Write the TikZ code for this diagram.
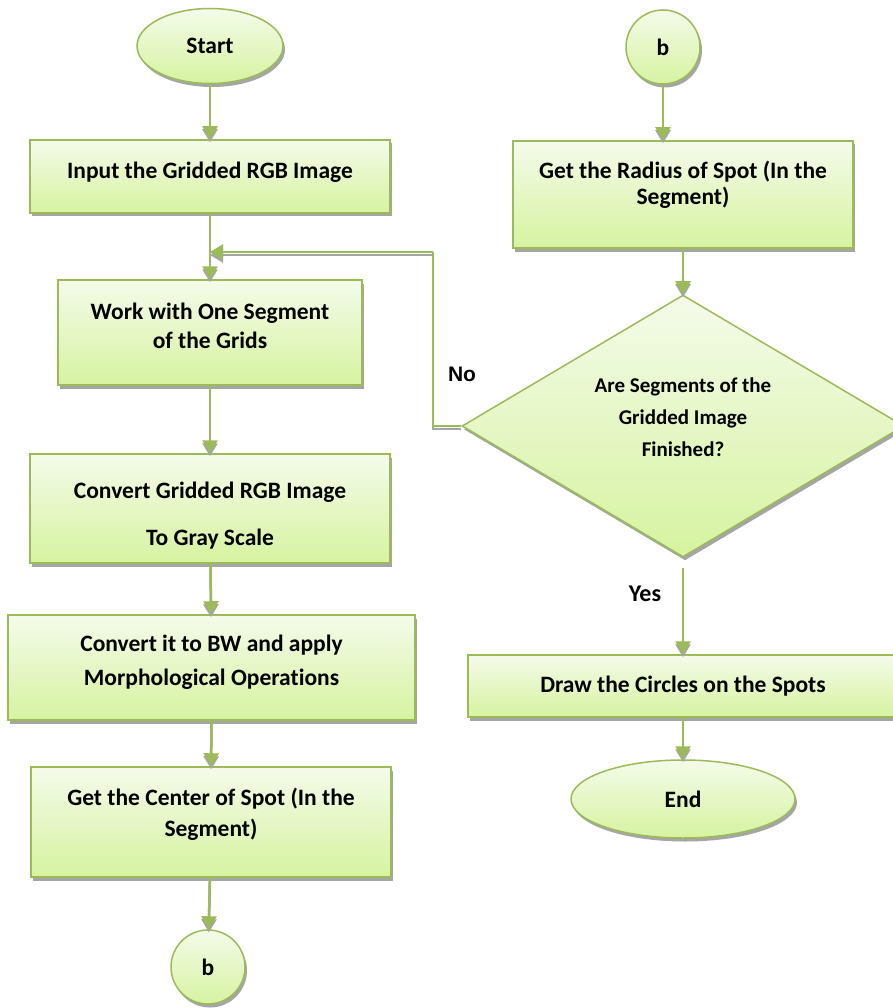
\documentclass[tikz,border=0pt]{standalone}
\usepackage{fontspec}
\setmainfont{Carlito}[Ligatures=NoCommon]
\newfontfamily\arialfont{Liberation Sans}
\usetikzlibrary{shapes.geometric,shadows,arrows.meta}
\definecolor{gborder}{RGB}{155,187,89}
\definecolor{gtop}{RGB}{244,251,234}
\definecolor{gbot}{RGB}{214,243,160}
\definecolor{shad}{RGB}{165,165,165}
\begin{document}
\begin{tikzpicture}[x=1pt,y=-1pt,
  txt/.style={font=\bfseries\fontsize{23.5}{29}\selectfont, align=center, inner sep=0pt},
  dtxt/.style={font=\bfseries\fontsize{21}{32}\selectfont, align=center, inner sep=0pt},
  shape base/.style={draw=gborder, line width=1.5pt, top color=gtop, bottom color=gbot,
    drop shadow={shadow xshift=2pt, shadow yshift=-3.5pt, fill=shad, opacity=1},
    inner sep=0pt, txt},
  procbox/.style={shape base, rectangle},
  term/.style={shape base, ellipse},
  conn/.style={shape base, circle, minimum size=74pt},
  decision/.style={shape base, diamond},
  arr/.style={draw=gborder, line width=2.5pt, -{Triangle[width=15pt,length=13pt]}},
  arrshadow/.style={draw=shad, line width=2.5pt, -{Triangle[width=15pt,length=13pt]},
    transform canvas={yshift=-3pt}},
  lab/.style={font=\bfseries\fontsize{21}{25}\selectfont}
]
\useasboundingbox (0,0) rectangle (893,1008);

% shapes
\node[term, minimum width=146pt, minimum height=75pt] (start) at (210,46) {Start};
\node[procbox, minimum width=360pt, minimum height=73pt] (input) at (210,176.5) {};
\node[procbox, minimum width=304pt, minimum height=105pt] (work) at (210,332.5) {};
\node[procbox, minimum width=360pt, minimum height=109pt] (gray) at (210,508.5) {};
\node[procbox, minimum width=407pt, minimum height=105pt] (bw) at (211.5,667.5) {};
\node[procbox, minimum width=360pt, minimum height=110pt] (center) at (211,822) {};
\node[conn] (bbot) at (208,967) {b};
\node[conn] (btop) at (663,47) {b};
\node[procbox, minimum width=340pt, minimum height=107pt] (radius) at (683,194.5) {};
\node[decision, minimum width=442pt, minimum height=262pt] (dec) at (683,426) {};
\node[procbox, minimum width=430pt, minimum height=62pt] (draw) at (683,686) {Draw the Circles on the Spots};
\node[term, minimum width=224pt, minimum height=78pt] (end) at (683,799) {End};

% texts
\node[txt] (inputtxt) at (210,172) {Input the Gridded RGB Image};
\node[txt] (worktxt) at (210,325.5) {Work with One Segment\\of the Grids};
\node[txt] (graytxt) at (210,515.5) {Convert Gridded RGB Image\\[18pt]To Gray Scale};
\node[txt] (bwtxt) at (211.5,662) {Convert it to BW and apply\\[5pt]Morphological Operations};
\node[txt] (centertxt) at (211,814) {Get the Center of Spot (In the\\[2pt]Segment)};
\node[txt] (radiustxt) at (683,184.5) {Get the Radius of Spot (In the\\[-3pt]Segment)};
\node[dtxt] (dectxt) at (683,417) {Are Segments of the\\Gridded Image\\Finished?};

\node[lab, font=\arialfont\bfseries\fontsize{21}{25}\selectfont] (nolab) at (462,374) {No};
\node[lab, font=\bfseries\fontsize{24}{28}\selectfont] (yeslab) at (645,594) {Yes};

\coordinate (loopturn) at (433,252);
\coordinate (merge) at (210,252);

% shadows of connectors
\draw[arrshadow] (start) -- (input);
\draw[arrshadow] (input) -- (work);
\draw[arrshadow, -] (dec.west) -| (loopturn);
\draw[arrshadow] (loopturn) -- (merge);
\draw[arrshadow] (work) -- (gray);
\draw[arrshadow] (gray) -- (bw);
\draw[arrshadow] (bw) -- (center);
\draw[arrshadow] (center) -- (bbot);
\draw[arrshadow] (btop.south) -- (btop.south |- radius.north);
\draw[arrshadow] (radius) -- (dec);
\draw[arrshadow, shorten <=10pt] (dec.south) -- (draw.north);
\draw[arrshadow] (draw) -- (end);

% connectors
\draw[arr] (start) -- (input);
\draw[arr] (input) -- (work);
\draw[arr, -] (dec.west) -| (loopturn);
\draw[arr] (loopturn) -- (merge);
\draw[arr] (work) -- (gray);
\draw[arr] (gray) -- (bw);
\draw[arr] (bw) -- (center);
\draw[arr] (center) -- (bbot);
\draw[arr] (btop.south) -- (btop.south |- radius.north);
\draw[arr] (radius) -- (dec);
\draw[arr, shorten <=10pt] (dec.south) -- (draw.north);
\draw[arr] (draw) -- (end);
\end{tikzpicture}
\end{document}
